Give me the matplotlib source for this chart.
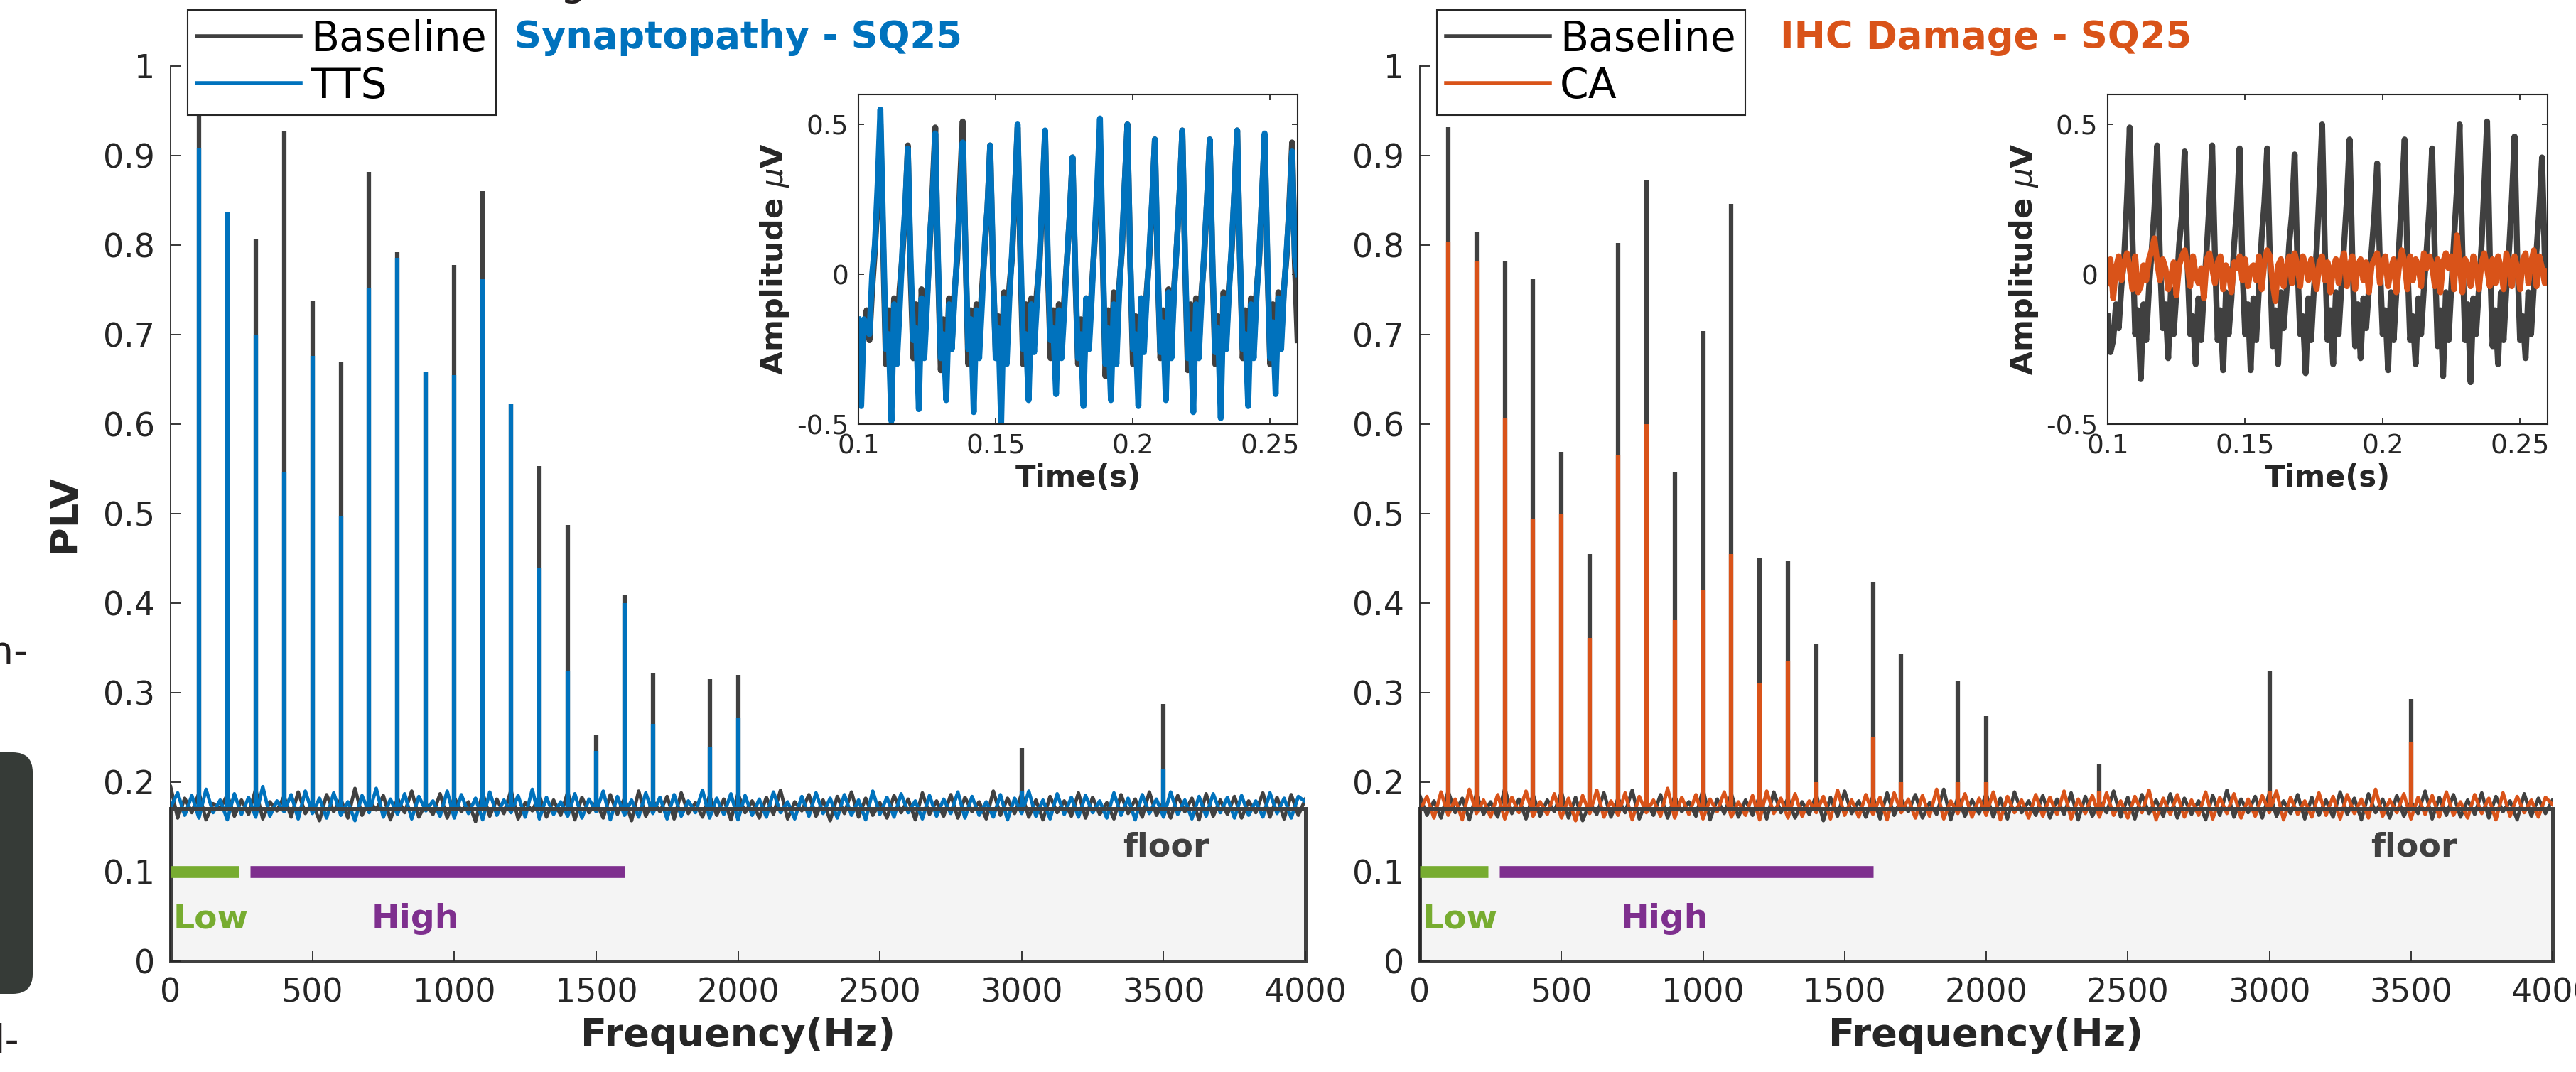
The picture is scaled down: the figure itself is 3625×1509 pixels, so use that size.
import numpy as np
import matplotlib

matplotlib.use("Agg")
import matplotlib.pyplot as plt
from matplotlib.patches import Rectangle, FancyBboxPatch
from matplotlib.transforms import IdentityTransform

W, H = 3625, 1509

DARK = "#404040"
TXT = "#262626"
BLUE = "#0072BD"
ORANGE = "#D95319"
GREEN = "#77AC30"
PURPLE = "#7E2F8E"

FLOOR = 0.171

# harmonic peaks of the PLV spectrum (Hz, PLV)
peak_freq_1 = [100, 200, 300, 400, 500, 600, 700, 800, 900, 1000, 1100, 1200, 1300, 1400,
               1500, 1600, 1700, 1900, 2000, 3000, 3500]
peak_baseline_1 = [0.97, 0.837, 0.807, 0.927, 0.738, 0.67, 0.882, 0.792, 0.659, 0.778, 0.86, 0.622,
                   0.553, 0.487, 0.252, 0.409, 0.322, 0.315, 0.32, 0.238, 0.287]
peak_tts = [0.909, 0.837, 0.70, 0.547, 0.676, 0.497, 0.752, 0.786, 0.659, 0.655, 0.762, 0.622,
            0.44, 0.324, 0.235, 0.40, 0.265, 0.24, 0.272, 0.19, 0.214]

peak_freq_2 = [100, 200, 300, 400, 500, 600, 700, 800, 900, 1000, 1100, 1200, 1300, 1400,
               1600, 1700, 1900, 2000, 2400, 3000, 3500]
peak_baseline_2 = [0.932, 0.814, 0.782, 0.762, 0.569, 0.455, 0.802, 0.872, 0.547, 0.704, 0.846, 0.451,
                   0.447, 0.355, 0.424, 0.343, 0.313, 0.274, 0.221, 0.324, 0.293]
peak_ca = [0.804, 0.782, 0.606, 0.494, 0.50, 0.361, 0.565, 0.60, 0.381, 0.414, 0.455, 0.311,
           0.335, 0.20, 0.25, 0.20, 0.20, 0.20, 0.19, 0.19, 0.245]

# noise floor of the spectra, PLV x 1000, one value every 25 Hz from 0 to 4000 Hz
noise_baseline_1 = [
    195, 160, 182, 166, 188, 158, 176, 170, 186, 162, 180, 164, 192, 159, 178, 168, 184, 161, 189, 165,
    177, 157, 186, 167, 181, 160, 193, 163, 179, 169, 185, 158, 182, 166, 190, 161, 176, 164, 187, 160,
    183, 167, 178, 156, 188, 162, 181, 165, 191, 159, 177, 168, 185, 161, 180, 163, 189, 158, 183, 166,
    178, 160, 186, 164, 182, 157, 190, 162, 179, 167, 184, 159, 188, 165, 177, 161, 185, 163, 181, 158,
    187, 166, 179, 160, 183, 164, 191, 159, 178, 168, 186, 162, 180, 157, 184, 165, 189, 161, 182, 163,
    177, 160, 185, 166, 181, 158, 188, 164, 179, 162, 186, 160, 183, 167, 178, 159, 190, 163, 182, 165,
    187, 161, 180, 158, 184, 166, 179, 162, 188, 160, 183, 164, 177, 159, 186, 165, 181, 161, 189, 163,
    178, 160, 185, 167, 182, 158, 187, 162, 180, 164, 184, 160, 179, 166, 188, 161, 183, 159, 186, 163,
    181]
noise_tts = [
    172, 188, 163, 185, 160, 192, 166, 180, 158, 187, 164, 183, 161, 195, 162, 179, 167, 186, 159, 190,
    165, 182, 160, 188, 163, 178, 157, 185, 166, 193, 161, 181, 164, 187, 159, 184, 168, 179, 162, 190,
    160, 186, 165, 182, 158, 189, 163, 180, 166, 185, 161, 192, 159, 183, 164, 178, 162, 187, 160, 181,
    167, 190, 158, 184, 163, 180, 161, 188, 165, 183, 159, 186, 162, 179, 166, 191, 160, 182, 164, 187,
    158, 185, 163, 181, 161, 189, 166, 178, 159, 184, 162, 188, 165, 182, 160, 186, 163, 180, 158, 190,
    164, 183, 161, 187, 166, 179, 159, 185, 162, 181, 165, 189, 160, 184, 163, 178, 161, 186, 158, 182,
    165, 190, 162, 180, 159, 187, 164, 183, 161, 185, 166, 179, 160, 188, 163, 182, 158, 186, 165, 181,
    161, 189, 164, 180, 159, 184, 162, 187, 166, 183, 160, 185, 163, 179, 161, 188, 165, 182, 160, 184,
    178]
noise_baseline_2 = [
    185, 163, 179, 160, 190, 166, 182, 158, 187, 164, 178, 161, 193, 165, 181, 159, 186, 162, 180, 167,
    189, 160, 183, 157, 177, 164, 188, 161, 182, 166, 191, 159, 179, 163, 186, 160, 184, 167, 178, 162,
    192, 158, 181, 165, 187, 161, 180, 163, 185, 159, 189, 166, 182, 160, 178, 164, 186, 157, 183, 162,
    190, 165, 179, 161, 184, 159, 188, 163, 181, 167, 186, 160, 177, 164, 192, 158, 183, 162, 180, 165,
    187, 161, 182, 159, 189, 166, 179, 163, 185, 160, 181, 164, 188, 158, 184, 162, 178, 166, 190, 161,
    183, 159, 186, 165, 180, 162, 187, 160, 182, 164, 179, 158, 185, 163, 191, 161, 181, 166, 184, 160,
    188, 162, 179, 165, 186, 159, 183, 163, 180, 161, 189, 164, 182, 158, 187, 166, 181, 160, 185, 162,
    178, 165, 190, 159, 183, 163, 186, 161, 180, 164, 188, 160, 184, 167, 179, 158, 187, 162, 182, 165,
    180]
noise_ca = [
    168, 184, 160, 189, 163, 181, 158, 192, 165, 180, 161, 186, 159, 183, 166, 190, 162, 178, 164, 187,
    160, 182, 157, 185, 165, 191, 161, 179, 163, 188, 158, 184, 166, 180, 162, 193, 160, 183, 164, 186,
    159, 181, 167, 189, 161, 178, 163, 185, 158, 190, 165, 182, 160, 187, 162, 179, 166, 184, 159, 191,
    163, 180, 161, 186, 164, 183, 158, 188, 166, 181, 160, 185, 162, 192, 159, 179, 165, 187, 161, 182,
    163, 189, 158, 184, 166, 180, 160, 186, 162, 183, 164, 190, 159, 181, 165, 185, 161, 188, 163, 179,
    160, 184, 166, 191, 158, 182, 164, 186, 161, 180, 163, 189, 159, 183, 165, 187, 160, 181, 162, 185,
    166, 190, 158, 183, 164, 179, 161, 188, 163, 184, 159, 186, 165, 181, 160, 192, 162, 180, 166, 187,
    159, 183, 164, 185, 161, 189, 163, 178, 160, 186, 165, 182, 158, 188, 162, 184, 166, 180, 161, 183,
    175]

# time-domain responses (uV), one sample per ms from 0.100 s to 0.260 s
wave_baseline_1 = [
    -0.20, -0.25, -0.18, -0.12, -0.22, -0.05, 0.08, 0.25, 0.50, 0.10,
    -0.30, -0.12, -0.36, -0.08, -0.25, -0.05, 0.06, 0.20, 0.43, 0.00,
    -0.28, -0.10, -0.38, -0.05, -0.22, -0.08, 0.10, 0.28, 0.49, 0.02,
    -0.32, -0.15, -0.35, -0.08, -0.24, -0.06, 0.05, 0.30, 0.51, 0.08,
    -0.30, -0.12, -0.33, -0.10, -0.20, -0.05, 0.08, 0.22, 0.43, 0.02,
    -0.26, -0.14, -0.38, -0.06, -0.25, -0.04, 0.06, 0.28, 0.49, 0.05,
    -0.30, -0.10, -0.36, -0.08, -0.22, -0.06, 0.04, 0.25, 0.47, 0.02,
    -0.28, -0.12, -0.35, -0.10, -0.25, -0.08, 0.05, 0.20, 0.39, 0.00,
    -0.30, -0.15, -0.38, -0.08, -0.22, -0.05, 0.10, 0.26, 0.45, 0.05,
    -0.34, -0.12, -0.35, -0.06, -0.26, -0.04, 0.08, 0.30, 0.50, 0.06,
    -0.30, -0.14, -0.38, -0.08, -0.22, -0.06, 0.06, 0.24, 0.45, 0.02,
    -0.28, -0.12, -0.36, -0.05, -0.24, -0.05, 0.10, 0.27, 0.48, 0.04,
    -0.32, -0.10, -0.38, -0.08, -0.25, -0.06, 0.06, 0.25, 0.45, 0.02,
    -0.30, -0.14, -0.40, -0.06, -0.22, -0.04, 0.08, 0.28, 0.48, 0.05,
    -0.28, -0.12, -0.36, -0.08, -0.25, -0.06, 0.05, 0.26, 0.46, 0.03,
    -0.30, -0.10, -0.35, -0.06, -0.22, -0.05, 0.06, 0.24, 0.44, 0.04,
    -0.22]
wave_tts = [
    -0.15, -0.44, -0.15, -0.18, -0.20, 0.00, 0.10, 0.30, 0.55, 0.15,
    -0.25, -0.20, -0.49, -0.10, -0.30, -0.12, 0.08, 0.22, 0.42, 0.05,
    -0.22, -0.18, -0.45, -0.08, -0.28, -0.10, 0.12, 0.25, 0.47, 0.05,
    -0.28, -0.20, -0.42, -0.10, -0.25, -0.08, 0.08, 0.25, 0.44, 0.08,
    -0.25, -0.15, -0.46, -0.12, -0.28, -0.10, 0.10, 0.22, 0.43, 0.05,
    -0.28, -0.18, -0.50, -0.08, -0.30, -0.08, 0.08, 0.28, 0.50, 0.10,
    -0.25, -0.20, -0.42, -0.10, -0.26, -0.10, 0.06, 0.26, 0.48, 0.05,
    -0.22, -0.18, -0.40, -0.12, -0.28, -0.12, 0.05, 0.20, 0.39, 0.02,
    -0.28, -0.20, -0.44, -0.08, -0.25, -0.08, 0.12, 0.30, 0.52, 0.08,
    -0.30, -0.18, -0.42, -0.10, -0.30, -0.06, 0.10, 0.30, 0.50, 0.06,
    -0.25, -0.20, -0.44, -0.08, -0.26, -0.08, 0.08, 0.25, 0.45, 0.04,
    -0.26, -0.16, -0.42, -0.06, -0.28, -0.06, 0.10, 0.27, 0.48, 0.06,
    -0.28, -0.20, -0.46, -0.10, -0.28, -0.08, 0.08, 0.25, 0.45, 0.04,
    -0.26, -0.18, -0.48, -0.08, -0.25, -0.06, 0.10, 0.28, 0.48, 0.06,
    -0.25, -0.20, -0.44, -0.10, -0.28, -0.08, 0.06, 0.26, 0.47, 0.05,
    -0.28, -0.16, -0.40, -0.08, -0.25, -0.06, 0.08, 0.22, 0.41, 0.06,
    0.00]
wave_baseline_2 = [
    -0.14, -0.26, -0.22, -0.10, -0.18, -0.04, 0.06, 0.25, 0.49, 0.12,
    -0.20, -0.12, -0.35, -0.10, -0.22, -0.05, 0.08, 0.22, 0.43, 0.05,
    -0.18, -0.10, -0.28, -0.05, -0.20, -0.06, 0.10, 0.20, 0.41, 0.04,
    -0.20, -0.14, -0.30, -0.08, -0.22, -0.05, 0.08, 0.24, 0.43, 0.06,
    -0.22, -0.12, -0.32, -0.06, -0.20, -0.08, 0.10, 0.22, 0.42, 0.02,
    -0.20, -0.10, -0.32, -0.08, -0.22, -0.05, 0.12, 0.24, 0.42, 0.05,
    -0.24, -0.12, -0.30, -0.06, -0.18, -0.06, 0.10, 0.20, 0.40, 0.04,
    -0.20, -0.14, -0.33, -0.08, -0.22, -0.05, 0.08, 0.28, 0.50, 0.08,
    -0.22, -0.12, -0.30, -0.06, -0.20, -0.04, 0.10, 0.25, 0.45, 0.05,
    -0.24, -0.10, -0.28, -0.08, -0.18, -0.05, 0.08, 0.20, 0.37, 0.04,
    -0.20, -0.12, -0.32, -0.06, -0.22, -0.06, 0.10, 0.26, 0.45, 0.05,
    -0.22, -0.14, -0.30, -0.08, -0.20, -0.05, 0.08, 0.22, 0.42, 0.06,
    -0.24, -0.12, -0.34, -0.06, -0.22, -0.04, 0.12, 0.28, 0.50, 0.08,
    -0.22, -0.10, -0.36, -0.08, -0.20, -0.05, 0.10, 0.30, 0.51, 0.06,
    -0.24, -0.12, -0.30, -0.06, -0.22, -0.05, 0.08, 0.25, 0.46, 0.05,
    -0.22, -0.14, -0.28, -0.06, -0.20, -0.04, 0.08, 0.22, 0.39, 0.05,
    0.00]
wave_ca = [
    -0.03, 0.05, -0.08, 0.02, 0.06, -0.02, 0.04, 0.07, 0.02, -0.05,
    0.06, -0.06, -0.04, 0.03, -0.02, 0.05, 0.08, 0.12, 0.04, -0.02,
    0.05, 0.02, -0.05, -0.01, 0.04, -0.07, 0.03, 0.06, 0.08, 0.03,
    -0.04, 0.06, 0.00, -0.03, 0.02, -0.08, 0.05, 0.07, 0.02, -0.03,
    0.04, 0.06, -0.05, 0.03, 0.01, -0.06, 0.04, 0.02, 0.06, -0.02,
    0.05, -0.04, 0.02, 0.03, -0.02, 0.06, -0.05, 0.04, 0.08, 0.06,
    -0.03, -0.09, 0.03, 0.05, -0.04, 0.02, 0.06, -0.03, 0.07, 0.03,
    -0.04, 0.06, 0.03, -0.02, 0.05, 0.00, -0.05, 0.04, 0.06, -0.02,
    0.04, -0.06, 0.02, 0.05, -0.03, 0.04, 0.07, -0.04, 0.03, 0.06,
    -0.05, 0.03, 0.05, -0.02, 0.04, -0.06, 0.03, 0.05, 0.07, -0.03,
    0.04, 0.06, -0.04, 0.02, 0.05, -0.06, 0.03, 0.08, 0.04, -0.05,
    0.06, -0.02, 0.05, 0.03, -0.04, 0.07, 0.02, 0.06, 0.03, -0.04,
    0.05, -0.06, 0.04, 0.07, 0.02, 0.06, -0.05, 0.13, 0.04, -0.06,
    0.05, 0.03, -0.04, 0.06, 0.02, -0.05, 0.04, 0.07, 0.02, -0.04,
    0.05, -0.03, 0.06, 0.02, -0.05, 0.07, 0.03, -0.04, 0.06, 0.02,
    -0.05, 0.05, 0.07, -0.03, 0.04, 0.08, -0.04, 0.06, 0.02, -0.03,
    0.01]

noise_freq = np.arange(0, 4001, 25)
wave_time = np.arange(len(wave_ca)) * 0.001 + 0.1

ytick_vals = [0, 0.1, 0.2, 0.3, 0.4, 0.5, 0.6, 0.7, 0.8, 0.9, 1]
ytick_text = ["0", "0.1", "0.2", "0.3", "0.4", "0.5", "0.6", "0.7", "0.8", "0.9", "1"]
xtick_vals = [0, 500, 1000, 1500, 2000, 2500, 3000, 3500, 4000]


def _fig_rect(x0, y0, x1, y1):
    # pixel box (top-left origin) -> figure fraction
    return [x0 / W, 1 - y1 / H, (x1 - x0) / W, (y1 - y0) / H]


def _draw_spectrum(ax, freqs, base_peaks, cond_peaks, base_noise, cond_noise, color, label, title):
    ax.add_patch(Rectangle((0, 0), 4000, FLOOR, facecolor="#f4f4f4", edgecolor=DARK,
                           lw=3.6, zorder=1, clip_on=False))
    ax.plot(noise_freq, np.array(base_noise) / 1000, color=DARK, lw=3.5, zorder=2, label="Baseline")
    ax.vlines(freqs, FLOOR, base_peaks, color=DARK, lw=4.5, zorder=2)
    ax.plot(noise_freq, np.array(cond_noise) / 1000, color=color, lw=3.5, zorder=2.5, label=label)
    ax.vlines(freqs, FLOOR, cond_peaks, color=color, lw=4.5, zorder=2.5)
    ax.plot([0, 4000], [FLOOR, FLOOR], color=DARK, lw=3.6, zorder=3, solid_capstyle="butt")

    ax.plot([0, 240], [0.1, 0.1], color=GREEN, lw=12, solid_capstyle="butt", zorder=3)
    ax.plot([280, 1600], [0.1, 0.1], color=PURPLE, lw=12, solid_capstyle="butt", zorder=3)
    ax.text(10, 0.037, "Low", color=GREEN, fontsize=34, fontweight="bold", zorder=4)
    ax.text(708, 0.037, "High", color=PURPLE, fontsize=34, fontweight="bold", zorder=4)
    ax.text(3357, 0.117, "floor", color=DARK, fontsize=33, fontweight="bold", zorder=4)

    ax.set_xlim(0, 4000)
    ax.set_ylim(0, 1)
    ax.set_xticks(xtick_vals)
    ax.set_xticklabels([str(v) for v in xtick_vals])
    ax.set_yticks(ytick_vals)
    ax.set_yticklabels(ytick_text)
    for side in ["top", "right", "bottom"]:
        ax.spines[side].set_visible(False)
    ax.spines["left"].set_color(TXT)
    ax.spines["left"].set_linewidth(1.3)
    ax.tick_params(direction="in", length=11, width=1.3, color=TXT, labelcolor=TXT,
                   labelsize=33, pad=16)
    ax.set_xlabel("Frequency(Hz)", fontsize=39, fontweight="bold", color=TXT, labelpad=8)
    ax.patch.set_visible(False)

    ax.text(0.5, 1.0198, title, transform=ax.transAxes, ha="center", va="baseline",
            fontsize=38, fontweight="bold", color=color)
    leg = ax.legend(loc="upper left", bbox_to_anchor=(0.015, 1.0627), fontsize=42,
                    handlelength=2.5, handletextpad=0.25, labelspacing=0.15, borderpad=0.22,
                    borderaxespad=0, fancybox=False, framealpha=1, edgecolor=TXT)
    leg.get_frame().set_linewidth(1.5)
    leg.set_zorder(10)
    for line in leg.get_lines():
        line.set_linewidth(4)


def _draw_inset(ax, base_wave, cond_wave, color):
    ax.plot(wave_time, base_wave, color=DARK, lw=6)
    ax.plot(wave_time, cond_wave, color=color, lw=6)
    ax.set_xlim(0.1, 0.26)
    ax.set_ylim(-0.5, 0.6)
    ax.set_xticks([0.1, 0.15, 0.2, 0.25])
    ax.set_xticklabels(["0.1", "0.15", "0.2", "0.25"])
    ax.set_yticks([-0.5, 0, 0.5])
    ax.set_yticklabels(["-0.5", "0", "0.5"])
    ax.tick_params(direction="in", length=6, width=1.3, color=TXT, labelcolor=TXT,
                   labelsize=27, pad=10, top=True, right=True)
    for sp in ax.spines.values():
        sp.set_color(TXT)
        sp.set_linewidth(1.5)
    ax.set_xlabel("Time(s)", fontsize=30, fontweight="bold", color=TXT, labelpad=4)
    ax.set_ylabel(r"Amplitude $\mu$V", fontsize=31, fontweight="bold", color=TXT, labelpad=6)


def main():
    fig = plt.figure(figsize=(W / 100, H / 100), dpi=100)

    ax1 = fig.add_axes(_fig_rect(240, 93, 1837, 1353))
    ax2 = fig.add_axes(_fig_rect(1998, 93, 3592, 1353))
    in1 = fig.add_axes(_fig_rect(1208, 133, 1826, 597))
    in2 = fig.add_axes(_fig_rect(2966, 133, 3585, 597))

    _draw_spectrum(ax1, peak_freq_1, peak_baseline_1, peak_tts, noise_baseline_1, noise_tts,
                   BLUE, "TTS", "Synaptopathy - SQ25")
    _draw_spectrum(ax2, peak_freq_2, peak_baseline_2, peak_ca, noise_baseline_2, noise_ca,
                   ORANGE, "CA", "IHC Damage - SQ25")
    ax1.set_ylabel("PLV", fontsize=39, fontweight="bold", color=TXT, labelpad=20)

    _draw_inset(in1, wave_baseline_1, wave_tts, BLUE)
    _draw_inset(in2, wave_baseline_2, wave_ca, ORANGE)

    # bits of the neighbouring panel that the crop cuts through
    fig.patches.append(FancyBboxPatch((-60, 110), 106, 340, boxstyle="round,pad=0,rounding_size=28",
                                      facecolor="#363b37", edgecolor="none",
                                      transform=IdentityTransform(), figure=fig))
    fig.text(-16 / W, 1 - 935 / H, "n-", fontsize=40, color="#231f20")
    fig.text(-8 / W, 1 - 1482 / H, "l-", fontsize=40, color="#231f20")
    fig.text(788 / W, 1 + 8 / H, "g", fontsize=43, color="#231f20", va="baseline")

    fig.savefig("out.png", dpi=100)
    plt.close(fig)


if __name__ == "__main__":
    main()
